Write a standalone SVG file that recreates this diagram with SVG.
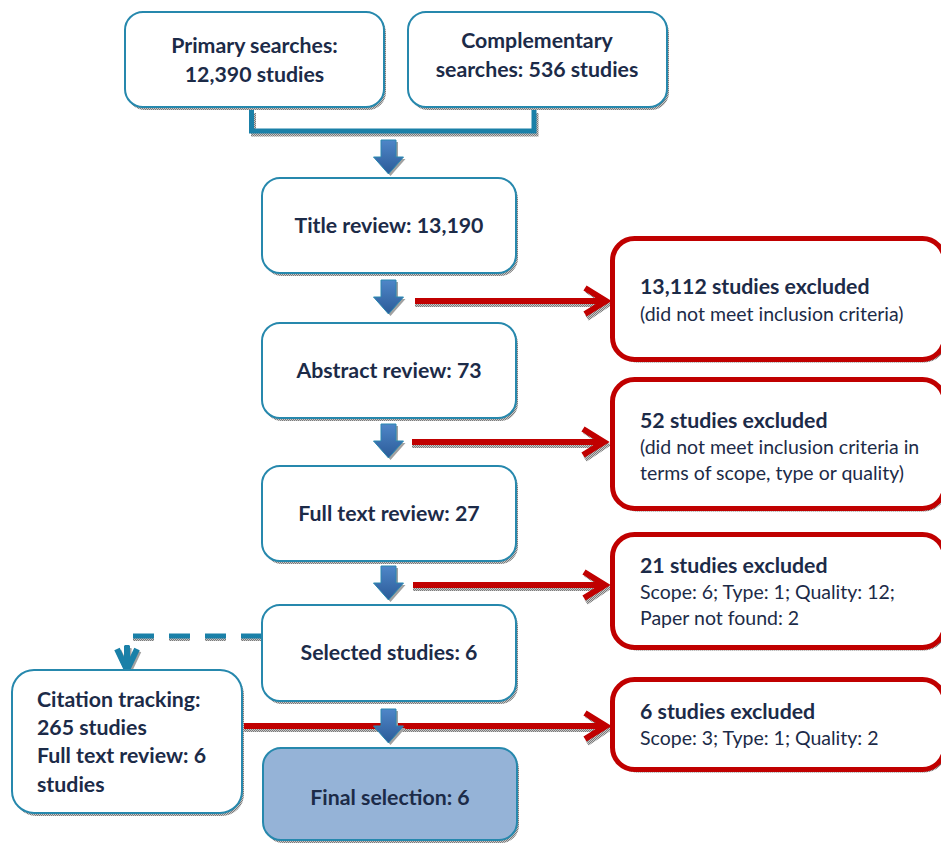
<svg xmlns="http://www.w3.org/2000/svg" width="941" height="843" viewBox="0 0 941 843">
<defs>
<pattern id="dots" width="2" height="2" patternUnits="userSpaceOnUse"><rect width="2" height="2" fill="#c8c8c8"/><rect width="1" height="1" fill="#7a7a7a"/><rect x="1" y="1" width="1" height="1" fill="#7a7a7a"/></pattern>
<linearGradient id="blueg" x1="0" y1="0" x2="0" y2="1"><stop offset="0" stop-color="#4f86c8"/><stop offset="1" stop-color="#2b5b98"/></linearGradient>
<path id="barrow" d="M-7.5,0 H7.5 V17 H15 L0,34 L-15,17 H-7.5 Z"/>
</defs>
<style>
.box{fill:#fff;stroke:#2688ad;stroke-width:2}
.sh{fill:url(#dots);stroke:none}
.fin{fill:#95b3d7;stroke:#2688ad;stroke-width:2}
.rbox{fill:#fff;stroke:#c00000;stroke-width:5}
.t{font-family:Lato,"Liberation Sans",sans-serif;font-weight:bold;font-size:21.3px;fill:#1c2b48}
.tm{text-anchor:middle}
.r{font-family:Lato,"Liberation Sans",sans-serif;font-size:19.5px;fill:#1c2b48}
.rl{fill:none;stroke:#c00000;stroke-width:6}
.rls{fill:none;stroke:url(#dots);stroke-width:6}
.ba{fill:url(#blueg);stroke:#2a88b0;stroke-width:1}
.bas{fill:url(#dots)}
.tl{fill:none;stroke:#1a80a8;stroke-width:5}
.tls{fill:none;stroke:url(#dots);stroke-width:5}
</style>

<g id="connectors">
  <!-- bracket -->
  <path class="tls" d="M253.5,113 V134 H536 V113"/>
  <path class="tl" d="M251.5,110 V131 H534 V110"/>
  <!-- red arrows -->
  <path class="rls" d="M415,304 H606 M587,290 L608,304 L587,318"/>
  <path class="rl" d="M415,301 H606 M585,288 L606,301 L585,314"/>
  <path class="rls" d="M412,445 H604 M585,431 L606,445 L585,459"/>
  <path class="rl" d="M412,442 H604 M583,429 L604,442 L583,455"/>
  <path class="rls" d="M413,588 H605 M586,574 L607,588 L586,602"/>
  <path class="rl" d="M413,585 H605 M584,572 L605,585 L584,598"/>
  <path class="rls" d="M242,729 H606 M587,715 L608,729 L587,743"/>
  <path class="rl" d="M242,726 H606 M585,713 L606,726 L585,739"/>
  <!-- dashed citation connector -->
  <path class="tls" d="M262,638.5 H129 V650" stroke-dasharray="21 15"/>
  <path class="tl" d="M262,636 H127 V648" stroke-dasharray="21 15"/>
  <path d="M127,646 V668 M117,649 L127,670 L137,649" fill="none" stroke="url(#dots)" stroke-width="6" transform="translate(1.5,2)"/>
  <path d="M127,646 V668 M117,649 L127,670 L137,649" fill="none" stroke="#1a80a8" stroke-width="6" stroke-linejoin="miter"/>
  <!-- blue block arrows -->
  <use href="#barrow" class="bas" x="390.5" y="142"/>
  <use href="#barrow" class="ba" x="388.5" y="140"/>
  <use href="#barrow" class="bas" x="390.5" y="282"/>
  <use href="#barrow" class="ba" x="388.5" y="280"/>
  <use href="#barrow" class="bas" x="390.5" y="426"/>
  <use href="#barrow" class="ba" x="388.5" y="424"/>
  <use href="#barrow" class="bas" x="390.5" y="568"/>
  <use href="#barrow" class="ba" x="388.5" y="566"/>
  <use href="#barrow" class="bas" x="390.5" y="711"/>
  <use href="#barrow" class="ba" x="388.5" y="709"/>
</g>

<g id="primary">
  <rect class="sh" x="127" y="15" width="259" height="95" rx="18"/>
  <rect class="box" x="125" y="12" width="259" height="95" rx="18"/>
  <text class="t tm" x="254.5" y="53">Primary searches:</text>
  <text class="t tm" x="254.5" y="82">12,390 studies</text>
</g>
<g id="complementary">
  <rect class="sh" x="410" y="15" width="259" height="95" rx="18"/>
  <rect class="box" x="408" y="12" width="259" height="95" rx="18"/>
  <text class="t tm" x="537" y="48">Complementary</text>
  <text class="t tm" x="537" y="77">searches: 536 studies</text>
</g>
<g id="title-review">
  <rect class="sh" x="264" y="181" width="254" height="95" rx="18"/>
  <rect class="box" x="262" y="178" width="254" height="95" rx="18"/>
  <text class="t tm" x="389" y="233">Title review: 13,190</text>
</g>
<g id="abstract-review">
  <rect class="sh" x="264" y="326" width="254" height="95" rx="18"/>
  <rect class="box" x="262" y="323" width="254" height="95" rx="18"/>
  <text class="t tm" x="389" y="378">Abstract review: 73</text>
</g>
<g id="full-text-review">
  <rect class="sh" x="264" y="469" width="254" height="95" rx="18"/>
  <rect class="box" x="262" y="466" width="254" height="95" rx="18"/>
  <text class="t tm" x="389" y="521">Full text review: 27</text>
</g>
<g id="selected-studies">
  <rect class="sh" x="264" y="608" width="254" height="96" rx="18"/>
  <rect class="box" x="262" y="605" width="254" height="96" rx="18"/>
  <text class="t tm" x="389" y="660">Selected studies: 6</text>
</g>
<g id="final-selection">
  <rect class="sh" x="265" y="751" width="254" height="92" rx="18"/>
  <rect class="fin" x="263" y="748" width="254" height="92" rx="18"/>
  <text class="t tm" x="390" y="805">Final selection: 6</text>
</g>
<g id="citation-tracking">
  <rect class="sh" x="14" y="673" width="230" height="143" rx="22"/>
  <rect class="box" x="12" y="670" width="230" height="143" rx="22"/>
  <text class="t" x="37" y="707">Citation tracking:</text>
  <text class="t" x="37" y="735">265 studies</text>
  <text class="t" x="37" y="763">Full text review: 6</text>
  <text class="t" x="37" y="792">studies</text>
</g>

<g id="excluded-1">
  <rect class="sh" x="614.5" y="241.5" width="332" height="121" rx="22"/>
  <rect class="rbox" x="612.5" y="238.5" width="332" height="121" rx="22"/>
  <text class="t" x="640" y="294">13,112 studies excluded</text>
  <text class="r" x="640" y="321">(did not meet inclusion criteria)</text>
</g>
<g id="excluded-2">
  <rect class="sh" x="614.5" y="382.5" width="332" height="129" rx="22"/>
  <rect class="rbox" x="612.5" y="379.5" width="332" height="129" rx="22"/>
  <text class="t" x="640" y="428">52 studies excluded</text>
  <text class="r" x="640" y="454">(did not meet inclusion criteria in</text>
  <text class="r" x="640" y="480">terms of scope, type or quality)</text>
</g>
<g id="excluded-3">
  <rect class="sh" x="614.5" y="537.5" width="332" height="113" rx="22"/>
  <rect class="rbox" x="612.5" y="534.5" width="332" height="113" rx="22"/>
  <text class="t" x="640" y="573">21 studies excluded</text>
  <text class="r" x="640" y="599">Scope: 6; Type: 1; Quality: 12;</text>
  <text class="r" x="640" y="625">Paper not found: 2</text>
</g>
<g id="excluded-4">
  <rect class="sh" x="614.5" y="682.5" width="332" height="90" rx="22"/>
  <rect class="rbox" x="612.5" y="679.5" width="332" height="90" rx="22"/>
  <text class="t" x="640" y="719">6 studies excluded</text>
  <text class="r" x="640" y="745">Scope: 3; Type: 1; Quality: 2</text>
</g>
</svg>
